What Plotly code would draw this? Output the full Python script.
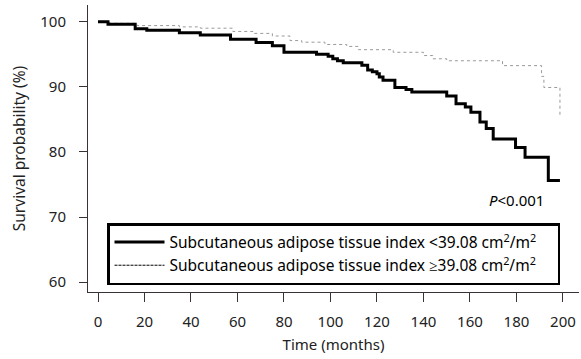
import plotly.graph_objects as go

# Kaplan-Meier step data (time in months, survival %)
low_time = [0, 4.3, 16, 21, 35, 44, 57, 68, 75, 80, 94, 99, 101, 103, 105.5, 113.5, 116, 118, 120, 121,
            122.6, 127.7, 132.5, 135, 150, 154, 158, 160.4, 164.3, 167, 170, 179.6, 183.7, 193.7, 198.7]
low_surv = [100, 99.6, 98.9, 98.7, 98.3, 97.96, 97.3, 96.8, 96.3, 95.3, 95.0, 94.7, 94.3, 94.0, 93.7, 93.3,
            92.6, 92.3, 92.0, 91.5, 91.0, 89.9, 89.6, 89.2, 88.6, 87.4, 86.9, 86.1, 84.6, 83.6, 82.0, 80.7,
            79.2, 75.6, 75.6]

high_time = [0, 5, 16.8, 35, 44, 58, 67, 75, 82.6, 87.6, 97.6, 107, 112, 127, 140, 144, 150, 174, 190.8,
             191.8, 198.7]
high_surv = [100, 99.75, 99.4, 99.2, 99.0, 98.5, 98.2, 97.8, 97.1, 96.85, 96.5, 96.2, 95.7, 95.3, 94.8,
             94.3, 94.0, 93.25, 91.6, 89.9, 85.4]

x_ticks = [0, 20, 40, 60, 80, 100, 120, 140, 160, 180, 200]
y_ticks = [60, 70, 80, 90, 100]

PAD = "\u00a0" * 4
legend_low = "Subcutaneous adipose tissue index <39.08 cm<sup>2</sup>/m<sup>2</sup>" + PAD
legend_high = "Subcutaneous adipose tissue index \u226539.08 cm<sup>2</sup>/m<sup>2</sup>" + PAD

FONT = "Noto Sans"
AX = "#3a3333"

fig = go.Figure()
fig.add_trace(go.Scatter(x=high_time, y=high_surv, mode="lines", line_shape="hv",
                         line=dict(color="#9a9a9a", width=1, dash="dot"), showlegend=False))
fig.add_trace(go.Scatter(x=low_time, y=low_surv, mode="lines", line_shape="hv",
                         line=dict(color="black", width=3), showlegend=False))
# legend-only entries
fig.add_trace(go.Scatter(x=[None], y=[None], mode="lines", name=legend_low, legendgroup="a",
                         line=dict(color="black", width=3)))
fig.add_trace(go.Scatter(x=[None], y=[None], mode="lines", name=legend_high, legendgroup="b",
                         line=dict(color="black", width=1, dash="3px,1px")))

fig.add_annotation(x=192.7, y=72.6, xanchor="right", yanchor="middle", showarrow=False,
                   text="<i>P</i><0.001", font=dict(family=FONT, size=15, color="black"))

fig.update_layout(
    width=581, height=359,
    margin=dict(l=88, r=2, t=5, b=67),
    plot_bgcolor="white", paper_bgcolor="white",
    font=dict(family=FONT, size=15, color="#222"),
    showlegend=True,
    legend=dict(x=0.0387, y=0.2404, xanchor="left", yanchor="top",
                bordercolor="black", borderwidth=2.5, bgcolor="white",
                font=dict(family=FONT, size=15.5, color="black"),
                itemwidth=50, tracegroupgap=0),
    xaxis=dict(range=[-4.3, 206.9], tickvals=x_ticks, ticks="outside", ticklen=9, tickcolor=AX,
               showline=True, linecolor=AX, linewidth=1, showgrid=False, zeroline=False,
               ticklabelstandoff=7, tickfont=dict(size=15),
               title=dict(text="Time (months)", font=dict(size=15), standoff=9)),
    yaxis=dict(range=[58.5, 102.56], tickvals=y_ticks, ticks="outside", ticklen=8, tickcolor=AX,
               showline=True, linecolor=AX, linewidth=1, showgrid=False, zeroline=False,
               ticklabelstandoff=10, tickfont=dict(size=15),
               title=dict(text="Survival probability (%)", font=dict(size=15.5), standoff=10)),
)

fig.write_html("out.html")
